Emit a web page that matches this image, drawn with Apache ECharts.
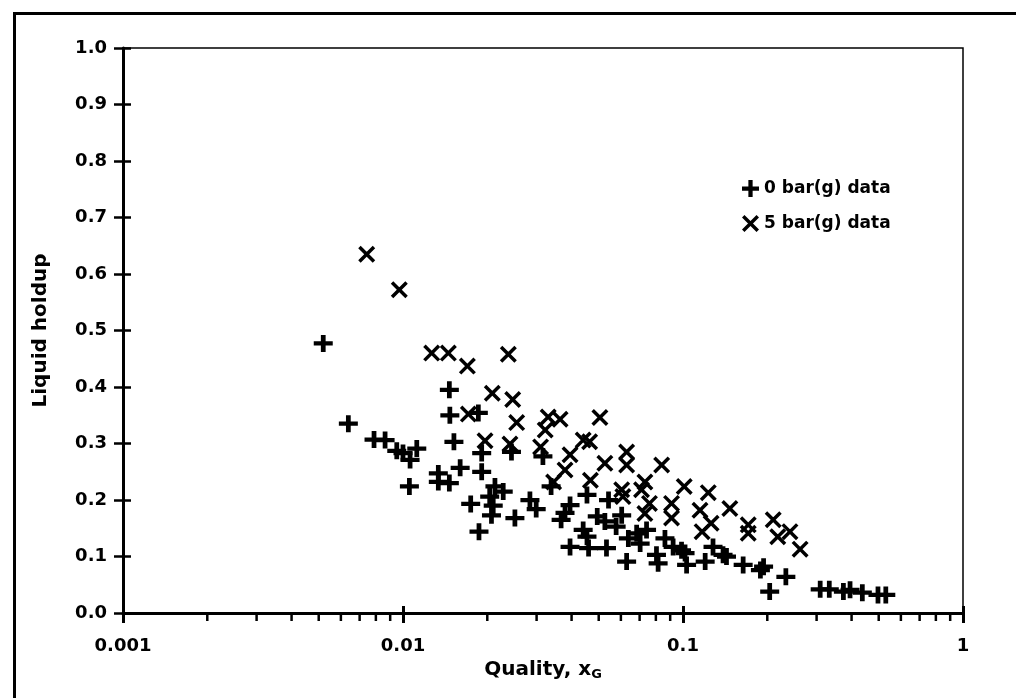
<!DOCTYPE html>
<html>
<head>
<meta charset="utf-8">
<script src="https://cdn.jsdelivr.net/npm/echarts@6/dist/echarts.min.js"></script>
<style>
  html, body { margin: 0; padding: 0; background: #fff; }
  #chart { width: 1016px; height: 698px; }
</style>
</head>
<body>
<div id="chart"></div>
<script>
// 0 bar(g) data (quality, holdup)
const x0bar = [0.00519, 0.00638, 0.00788, 0.00863, 0.0095, 0.0100, 0.0106, 0.0112, 0.01054, 0.01337,
  0.01337, 0.01464, 0.01464, 0.0147, 0.0152, 0.0160, 0.01745, 0.01858, 0.01868, 0.0191,
  0.0191, 0.0204, 0.0207, 0.0213, 0.021, 0.0228, 0.0244, 0.0251, 0.0284, 0.0299,
  0.0316, 0.0338, 0.0367, 0.0379, 0.0395, 0.0395, 0.044, 0.0454, 0.0454, 0.046,
  0.0494, 0.0526, 0.0533, 0.0542, 0.0577, 0.0604, 0.0629, 0.0638, 0.0683, 0.0703,
  0.0741, 0.0804, 0.0815, 0.0862, 0.0922, 0.0988, 0.1017, 0.103, 0.120, 0.128,
  0.139, 0.143, 0.164, 0.189, 0.194, 0.204, 0.233, 0.309, 0.333, 0.374,
  0.395, 0.437, 0.497, 0.530];
const y0bar = [0.477, 0.335, 0.307, 0.306, 0.287, 0.283, 0.271, 0.291, 0.224, 0.247,
  0.232, 0.230, 0.395, 0.350, 0.303, 0.257, 0.193, 0.354, 0.144, 0.283,
  0.250, 0.206, 0.173, 0.224, 0.190, 0.215, 0.285, 0.168, 0.200, 0.184,
  0.277, 0.224, 0.165, 0.177, 0.191, 0.117, 0.147, 0.135, 0.209, 0.115,
  0.171, 0.162, 0.115, 0.200, 0.153, 0.173, 0.091, 0.132, 0.141, 0.123,
  0.147, 0.103, 0.088, 0.132, 0.117, 0.111, 0.106, 0.085, 0.091, 0.117,
  0.103, 0.100, 0.085, 0.076, 0.082, 0.038, 0.064, 0.042, 0.042, 0.038,
  0.041, 0.036, 0.032, 0.032];

// 5 bar(g) data
const x5bar = [0.00742, 0.0097, 0.01266, 0.01452, 0.01698, 0.02084, 0.01712, 0.01963, 0.02378, 0.02465,
  0.02547, 0.0241, 0.0322, 0.031, 0.033, 0.0364, 0.0505, 0.0395, 0.044, 0.0464,
  0.0379, 0.0345, 0.0526, 0.0467, 0.0629, 0.0629, 0.0839, 0.061, 0.0604, 0.0731,
  0.0711, 0.0759, 0.0731, 0.091, 0.091, 0.101, 0.1231, 0.115, 0.147, 0.126,
  0.117, 0.171, 0.171, 0.210, 0.241, 0.218, 0.262];
const y5bar = [0.635, 0.572, 0.460, 0.460, 0.437, 0.389, 0.352, 0.305, 0.458, 0.378,
  0.337, 0.299, 0.324, 0.294, 0.347, 0.343, 0.346, 0.280, 0.306, 0.303,
  0.253, 0.232, 0.265, 0.235, 0.285, 0.262, 0.262, 0.206, 0.218, 0.232,
  0.218, 0.194, 0.176, 0.194, 0.168, 0.224, 0.213, 0.182, 0.185, 0.159,
  0.144, 0.156, 0.141, 0.165, 0.144, 0.135, 0.113];

// minor tick positions on the log axis
const minorTicks = [0.002, 0.003, 0.004, 0.005, 0.006, 0.007, 0.008, 0.009,
  0.02, 0.03, 0.04, 0.05, 0.06, 0.07, 0.08, 0.09,
  0.2, 0.3, 0.4, 0.5, 0.6, 0.7, 0.8, 0.9];

const plusPath = 'path://M3.75,0H6.25V3.75H10V6.25H6.25V10H3.75V6.25H0V3.75H3.75Z';
const crossPath = 'path://M0,1.45L1.45,0L10,8.55L8.55,10ZM8.55,0L10,1.45L1.45,10L0,8.55Z';

const font = 'DejaVu Sans';
const chart = echarts.init(document.getElementById('chart'));

const pair = (xs, ys) => xs.map((x, i) => [x, ys[i]]);

const option = {
  animation: false,
  backgroundColor: '#fff',
  grid: {
    left: 123, right: 53, top: 48, bottom: 85,
    show: true, borderColor: '#000', borderWidth: 1.5
  },
  graphic: [{
    type: 'rect', left: 12, top: 11,
    shape: { width: 1100, height: 800 },
    style: { fill: 'none', stroke: '#000', lineWidth: 3 },
    silent: true
  }],
  legend: {
    orient: 'vertical',
    left: 737, top: 175,
    itemWidth: 17, itemHeight: 17, itemGap: 18,
    textStyle: { fontFamily: font, fontWeight: 'bold', fontSize: 17, color: '#000' },
    data: [
      { name: '0 bar(g) data', icon: plusPath },
      { name: '5 bar(g) data', icon: crossPath }
    ]
  },
  xAxis: [{
    type: 'log', logBase: 10, min: 0.001, max: 1,
    name: 'Quality, x{g|G}',
    nameLocation: 'middle', nameGap: 42,
    nameTextStyle: {
      fontFamily: font, fontWeight: 'bold', fontSize: 20, color: '#000',
      rich: { g: { fontFamily: font, fontWeight: 'bold', fontSize: 13, color: '#000', padding: [10, 0, 0, 0] } }
    },
    axisLine: { lineStyle: { color: '#000', width: 3 } },
    axisTick: { length: 10, lineStyle: { color: '#000', width: 3 } },
    axisLabel: {
      margin: 24, fontFamily: font, fontWeight: 'bold', fontSize: 18, color: '#000',
      formatter: v => String(parseFloat(Number(v).toPrecision(6)))
    },
    splitLine: { show: false }
  }, {
    type: 'log', logBase: 10, min: 0.001, max: 1, position: 'bottom',
    axisLine: { show: false },
    axisTick: { inside: true, length: 7, lineStyle: { color: '#000', width: 3 } },
    axisLabel: { show: false },
    splitLine: { show: false }
  }],
  yAxis: [{
    type: 'value', min: 0, max: 1, interval: 0.1,
    name: 'Liquid holdup',
    nameLocation: 'middle', nameRotate: 90, nameGap: 72,
    nameTextStyle: { fontFamily: font, fontWeight: 'bold', fontSize: 20, color: '#000' },
    axisLine: { show: true, lineStyle: { color: '#000', width: 3 } },
    axisTick: { show: true, length: 9, lineStyle: { color: '#000', width: 2.5 } },
    axisLabel: {
      margin: 16, fontFamily: font, fontWeight: 'bold', fontSize: 18, color: '#000',
      formatter: v => v.toFixed(1)
    },
    splitLine: { show: false }
  }, {
    type: 'value', min: 0, max: 1, interval: 0.1, position: 'left',
    axisLine: { show: false },
    axisTick: { show: true, inside: true, length: 8, lineStyle: { color: '#000', width: 2.5 } },
    axisLabel: { show: false },
    splitLine: { show: false }
  }],
  series: [{
    name: '0 bar(g) data',
    type: 'scatter',
    symbol: plusPath,
    symbolSize: [19, 17],
    itemStyle: { color: '#000', opacity: 1 },
    data: pair(x0bar, y0bar)
  }, {
    name: '5 bar(g) data',
    type: 'scatter',
    symbol: crossPath,
    symbolSize: 17,
    itemStyle: { color: '#000', opacity: 1 },
    data: pair(x5bar, y5bar)
  }, {
    // minor ticks of the log axis, placed through the axis scale
    type: 'custom',
    clip: false,
    silent: true,
    data: minorTicks.map(v => [v, 0]),
    renderItem: (params, api) => {
      const p = api.coord([api.value(0), api.value(1)]);
      return {
        type: 'line',
        shape: { x1: p[0], y1: p[1], x2: p[0], y2: p[1] + 8 },
        style: { stroke: '#000', lineWidth: 2.5 }
      };
    }
  }]
};

chart.setOption(option);
</script>
</body>
</html>
